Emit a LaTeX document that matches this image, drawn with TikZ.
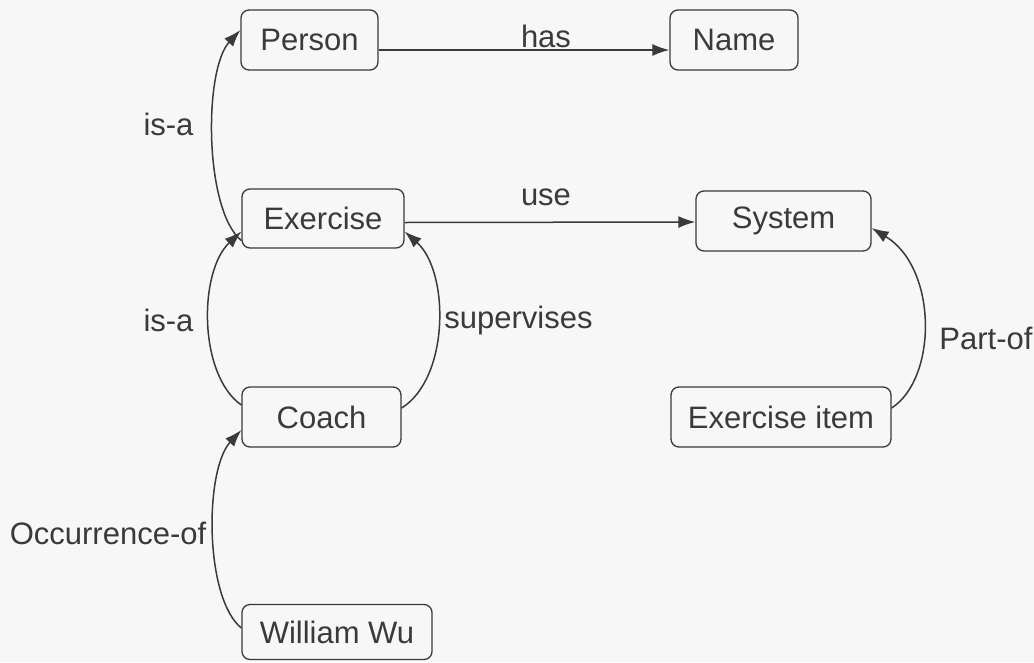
\documentclass[tikz,border=0pt]{standalone}
\usepackage{fontspec}
\setmainfont{Liberation Sans}
\usetikzlibrary{arrows.meta}
\definecolor{ink}{HTML}{3A3A3A}
\definecolor{paper}{HTML}{F7F7F7}
\begin{document}
\begin{tikzpicture}[x=1pt,y=-1pt,
  concept/.style={draw=ink, line width=1.3pt, rounded corners=8pt, text=ink,
    inner sep=0pt, font=\fontsize{31}{36}\selectfont},
  lbl/.style={text=ink, inner sep=0pt, font=\fontsize{31}{36}\selectfont},
  rel/.style={draw=ink, line width=1.5pt, -{Latex[length=17pt,width=12pt]}}]
\fill[paper] (0,0) rectangle (1034,662);
\useasboundingbox (0,0) rectangle (1034,662);

% concepts
\node[concept, minimum width=137pt, minimum height=60pt] (person)  at (309.5,40)  {Person};
\node[concept, minimum width=128pt, minimum height=60pt] (name)    at (734,40)    {Name};
\node[concept, minimum width=162pt, minimum height=59pt] (exer)    at (323,218.5) {Exercise};
\node[concept, minimum width=175pt, minimum height=60pt] (system)  at (783.5,221) {System};
\node[concept, minimum width=159pt, minimum height=60pt] (coach)   at (321.5,417) {Coach};
\node[concept, minimum width=220pt, minimum height=60pt] (item)    at (781,417)   {Exercise item};
\node[concept, minimum width=190pt, minimum height=55pt] (william) at (337,632)   {William Wu};

% straight relations (yshift is in page direction: negative moves down)
\draw[rel] ([yshift=-10pt]person.east) -- ([yshift=-10pt]name.west);
\draw[rel] ([yshift=-4pt]exer.east) -- ([yshift=-1pt]system.west);

% curved relations
\draw[rel] ([yshift=-22pt]exer.west)
  .. controls +(-37,-30) and +(-37,40) .. ([yshift=10pt]person.west);
\draw[rel] ([yshift=12pt]coach.west)
  .. controls +(-43,-30) and +(-43,40) .. ([yshift=-13pt]exer.west);
\draw[rel] ([yshift=9pt]coach.east)
  .. controls +(48,-30) and +(45,40) .. ([yshift=-13pt]exer.east);
\draw[rel] ([yshift=9pt]item.east)
  .. controls +(46,-30) and +(66,40) .. ([yshift=-7pt]system.east);
\draw[rel] ([yshift=4pt]william.west)
  .. controls +(-37,-30) and +(-37,40) .. ([yshift=-13pt]coach.west);

% relation labels
\node[lbl] (lhas)  at (546,36)  {has};
\node[lbl] (luse)  at (546,197) {use};
\node[lbl] (lisa1) at (168.5,124) {is-a};
\node[lbl] (lisa2) at (168.5,320) {is-a};
\node[lbl] (lsup)  at (518.5,320) {supervises};
\node[lbl] (lpart) at (986,338) {Part-of};
\node[lbl] (locc)  at (108,533) {Occurrence-of};
\end{tikzpicture}
\end{document}
